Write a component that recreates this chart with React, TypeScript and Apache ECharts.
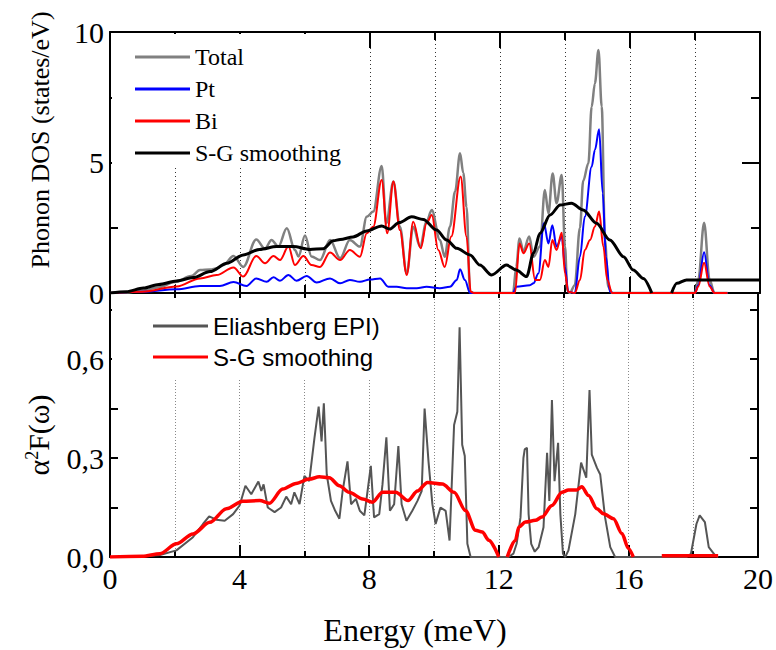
import React, { useEffect, useRef } from 'react';
import * as echarts from 'echarts';

// ---------- Top panel: phonon DOS ----------
const totalE = [0, 0.5, 1.0, 1.5, 2.0, 2.5, 2.77, 3.08, 3.3, 3.49, 3.8, 4.1, 4.5, 4.77, 4.97, 5.18, 5.44, 5.69, 5.8, 6.0, 6.2, 6.46, 6.77, 7.08, 7.38, 7.69, 7.9, 8.1, 8.36, 8.5, 8.72, 8.92, 9.13, 9.33, 9.54, 9.74, 9.9, 10.15, 10.3, 10.46, 10.62, 10.77, 10.87, 10.97, 11.08, 11.2, 12.4, 12.5, 12.6, 12.72, 12.9, 13.03, 13.23, 13.38, 13.49, 13.62, 13.74, 13.9, 14.0, 14.07, 14.15, 14.3, 14.46, 14.56, 14.72, 14.82, 14.92, 15.03, 15.13, 15.23, 15.33, 15.45, 18.0, 18.1, 18.28, 18.45, 18.6, 19.0];
const totalV = [0, 0.02, 0.1, 0.22, 0.42, 0.65, 0.88, 0.9, 0.95, 1.07, 1.42, 1.0, 2.05, 1.7, 2.03, 1.78, 2.48, 1.65, 1.4, 2.2, 1.4, 1.26, 2.03, 1.33, 2.03, 1.78, 2.92, 3.12, 4.87, 2.67, 4.27, 2.54, 0.75, 2.54, 1.78, 2.73, 3.18, 2.03, 1.39, 2.54, 3.9, 5.35, 4.6, 3.3, 0.05, 0, 0, 1.0, 2.09, 1.6, 2.16, 1.39, 1.78, 3.95, 3.05, 4.58, 3.44, 4.52, 1.78, 0.1, 0, 0.3, 2.5, 4.3, 4.97, 7.14, 8.03, 9.31, 7.14, 2.03, 0.24, 0, 0, 0.5, 2.69, 0.5, 0, 0];

const ptE = [0, 1.0, 2.05, 2.77, 3.38, 3.8, 4.2, 4.5, 4.82, 5.03, 5.23, 5.49, 5.74, 6.05, 6.36, 6.77, 7.08, 7.38, 7.69, 8.0, 8.31, 8.56, 8.82, 9.13, 9.44, 9.74, 10.15, 10.46, 10.67, 10.77, 10.92, 11.08, 12.4, 12.5, 12.92, 13.03, 13.18, 13.35, 13.49, 13.61, 13.74, 13.9, 14.0, 14.1, 14.3, 14.46, 14.61, 14.82, 14.92, 15.05, 15.16, 15.26, 15.38, 15.5, 18.0, 18.1, 18.28, 18.45, 18.6, 19.0];
const ptV = [0, 0.05, 0.14, 0.27, 0.27, 0.42, 0.27, 0.56, 0.43, 0.6, 0.47, 0.69, 0.47, 0.65, 0.4, 0.56, 0.37, 0.5, 0.43, 0.52, 0.56, 0.24, 0.24, 0.18, 0.18, 0.24, 0.18, 0.24, 0.5, 0.91, 0.5, 0, 0, 0.24, 0.3, 0.37, 0.75, 2.67, 1.9, 2.6, 1.78, 2.16, 1.0, 0.05, 0, 1.39, 2.92, 4.84, 5.48, 6.27, 3.82, 1.39, 0.05, 0, 0, 0.3, 1.56, 0.3, 0, 0];

const biE = [0, 1.0, 2.05, 2.77, 3.28, 3.8, 4.1, 4.5, 4.77, 5.03, 5.23, 5.49, 5.69, 5.95, 6.2, 6.46, 6.77, 7.08, 7.38, 7.69, 7.9, 8.1, 8.36, 8.53, 8.72, 8.92, 9.13, 9.33, 9.56, 9.74, 9.9, 10.1, 10.3, 10.5, 10.79, 10.97, 11.1, 11.2, 12.4, 12.46, 12.6, 12.72, 12.9, 13.08, 13.23, 13.38, 13.49, 13.61, 13.74, 13.9, 14.0, 14.1, 14.3, 14.46, 14.61, 14.77, 14.92, 15.05, 15.18, 15.3, 15.45, 18.0, 18.1, 18.28, 18.45, 18.6, 19.0];
const biV = [0, 0.05, 0.25, 0.56, 0.69, 0.98, 0.63, 1.42, 1.14, 1.42, 1.26, 1.78, 1.07, 1.42, 1.07, 1.0, 1.55, 1.26, 1.65, 1.39, 2.29, 2.54, 4.33, 2.29, 4.27, 2.41, 0.69, 2.73, 1.71, 2.67, 2.99, 1.65, 1.0, 2.16, 4.46, 2.16, 0.05, 0, 0, 0, 1.9, 1.52, 1.9, 0.5, 0.5, 1.26, 1.0, 2.03, 1.65, 2.31, 0.75, 0.05, 0, 0.5, 1.65, 2.03, 2.54, 3.12, 1.78, 0.5, 0, 0, 0.25, 1.16, 0.25, 0, 0];

const sgDosE = [0, 0.5, 1.03, 1.5, 2.05, 2.56, 3.08, 3.6, 4.1, 4.6, 5.13, 5.64, 6.15, 6.56, 6.87, 7.08, 7.48, 7.9, 8.36, 8.6, 8.9, 9.28, 9.64, 10.05, 10.36, 10.67, 11.08, 11.38, 11.74, 12.2, 12.5, 12.82, 13.03, 13.23, 13.54, 13.85, 14.2, 14.56, 14.97, 15.38, 15.8, 16.1, 16.41, 16.67, 17.0, 17.28, 17.44, 17.74, 18.0, 20.0];
const sgDosV = [0, 0.05, 0.19, 0.33, 0.46, 0.59, 0.82, 1.14, 1.46, 1.67, 1.78, 1.78, 1.67, 1.7, 2.0, 2.05, 2.15, 2.38, 2.57, 2.45, 2.7, 2.92, 2.82, 2.41, 2.03, 1.71, 1.46, 1.07, 0.69, 1.07, 0.88, 0.63, 1.52, 2.29, 2.99, 3.37, 3.44, 3.18, 2.67, 2.03, 1.39, 0.88, 0.56, 0, null, 0, 0.37, 0.5, 0.5, 0.5];

// ---------- Bottom panel: Eliashberg function ----------
const eliE = [0, 1.0, 1.54, 2.05, 2.56, 2.87, 3.06, 3.28, 3.54, 3.8, 4.0, 4.18, 4.36, 4.58, 4.67, 4.74, 4.87, 5.08, 5.28, 5.44, 5.59, 5.69, 5.85, 6.0, 6.15, 6.31, 6.44, 6.53, 6.6, 6.69, 6.82, 6.95, 7.08, 7.18, 7.33, 7.44, 7.59, 7.71, 7.85, 7.95, 8.05, 8.15, 8.31, 8.41, 8.53, 8.64, 8.77, 8.9, 9.0, 9.15, 9.33, 9.49, 9.62, 9.71, 9.83, 9.95, 10.05, 10.2, 10.36, 10.48, 10.62, 10.72, 10.79, 10.87, 10.95, 11.03, 11.13, 12.3, 12.45, 12.55, 12.67, 12.76, 12.8, 12.87, 12.92, 13.0, 13.11, 13.23, 13.38, 13.49, 13.56, 13.64, 13.72, 13.83, 13.9, 13.98, 14.05, 14.15, 14.36, 14.54, 14.7, 14.8, 14.87, 15.03, 15.13, 15.28, 15.44, 15.59, 17.8, 17.93, 18.1, 18.2, 18.36, 18.48, 18.67, 18.77];
const eliV = [0, 0.002, 0.006, 0.02, 0.06, 0.1, 0.123, 0.113, 0.11, 0.13, 0.156, 0.216, 0.19, 0.229, 0.2, 0.22, 0.15, 0.136, 0.15, 0.183, 0.16, 0.196, 0.16, 0.246, 0.23, 0.36, 0.456, 0.35, 0.466, 0.25, 0.17, 0.14, 0.116, 0.2, 0.29, 0.16, 0.176, 0.14, 0.126, 0.2, 0.276, 0.12, 0.13, 0.22, 0.363, 0.14, 0.16, 0.336, 0.16, 0.11, 0.14, 0.17, 0.2, 0.45, 0.29, 0.16, 0.1, 0.15, 0.14, 0.05, 0.4, 0.44, 0.696, 0.34, 0.306, 0.04, 0, 0, 0.01, 0.04, 0.12, 0.3, 0.326, 0.331, 0.13, 0.04, 0.016, 0.03, 0.09, 0.316, 0.17, 0.476, 0.23, 0.346, 0.13, 0.01, 0, 0.02, 0.13, 0.286, 0.24, 0.506, 0.31, 0.27, 0.25, 0.12, 0.03, 0, 0, 0.01, 0.1, 0.126, 0.106, 0.03, 0.006, 0];

const sgEliE = [0, 1.0, 1.54, 2.05, 2.56, 3.08, 3.59, 4.1, 4.62, 4.92, 5.33, 5.74, 6.15, 6.46, 6.77, 7.08, 7.38, 7.8, 8.1, 8.41, 8.82, 9.2, 9.49, 9.8, 10.26, 10.62, 10.97, 11.28, 11.49, 11.69, 12.0, 12.1, 12.26, 12.51, 12.62, 12.82, 13.13, 13.33, 13.64, 13.95, 14.15, 14.41, 14.56, 14.77, 15.03, 15.23, 15.54, 15.8, 16.0, 16.15, 16.5, 17.03, 18.77];
const sgEliV = [0, 0.002, 0.01, 0.04, 0.07, 0.105, 0.146, 0.169, 0.171, 0.163, 0.206, 0.223, 0.236, 0.243, 0.24, 0.216, 0.196, 0.176, 0.166, 0.196, 0.196, 0.171, 0.2, 0.226, 0.221, 0.196, 0.141, 0.081, 0.076, 0.051, 0, null, 0, 0.05, 0.091, 0.106, 0.111, 0.121, 0.156, 0.196, 0.203, 0.203, 0.213, 0.186, 0.146, 0.131, 0.116, 0.071, 0.026, 0, null, 0.004, 0.004];

const xTicks = { min: 0, max: 20, major: 4 };
const dosTicks = { min: 0, max: 10, major: 5 };
const eliTicks = { min: 0, max: 0.8, step: 0.15, labelStep: 0.3 };

const pairs = (xs: number[], ys: (number | null)[]) =>
  xs.map((x, i) => [x, ys[i] === null ? '-' : ys[i]]);

const serif = '"Liberation Serif", "Times New Roman", serif';
const sans = '"Liberation Sans", Arial, sans-serif';
const axisLineStyle = { color: '#000', width: 2 };

export default function App() {
  const ref = useRef<HTMLDivElement>(null);
  useEffect(() => {
    if (!ref.current) return;
    const chart = echarts.init(ref.current, null, { renderer: 'svg' });
    const xBase = (grid: number, position: 'top' | 'bottom', extra: any = {}) => ({
      type: 'value',
      gridIndex: grid,
      position,
      min: xTicks.min,
      max: xTicks.max,
      interval: xTicks.major,
      axisLine: { show: true, onZero: false, lineStyle: axisLineStyle },
      axisTick: { show: true, inside: true, length: 16, lineStyle: { color: '#000', width: 2 } },
      minorTick: { show: true, splitNumber: 2, length: 8, lineStyle: { color: '#000', width: 2 } },
      axisLabel: { show: false },
      splitLine: { show: false },
      minorSplitLine: { show: false },
      ...extra,
    });
    const option: any = {
      animation: false,
      backgroundColor: '#fff',
      grid: [
        { left: 110, top: 32, width: 650, height: 261 },
        { left: 110, top: 293, width: 650, height: 264 },
      ],
      xAxis: [
        xBase(0, 'bottom', {
          splitLine: { show: true, lineStyle: { color: '#333', width: 1, type: [1, 3] } },
          minorSplitLine: { show: true, lineStyle: { color: '#333', width: 1, type: [1, 3] } },
        }),
        xBase(0, 'top'),
        xBase(1, 'bottom', {
          axisLabel: { show: true, fontFamily: serif, fontSize: 30, color: '#000', margin: 6 },
          axisTick: { show: true, inside: true, length: 12, lineStyle: { color: '#000', width: 2 } },
          minorTick: { show: true, splitNumber: 2, length: 6, lineStyle: { color: '#000', width: 2 } },
          splitLine: { show: true, lineStyle: { color: '#888', width: 1, type: [1, 2] } },
          minorSplitLine: { show: true, lineStyle: { color: '#888', width: 1, type: [1, 2] } },
        }),
        xBase(1, 'top', {
          axisTick: { show: true, inside: true, length: 5, lineStyle: { color: '#000', width: 2 } },
          minorTick: { show: true, splitNumber: 2, length: 5, lineStyle: { color: '#000', width: 2 } },
        }),
      ],
      yAxis: [
        {
          type: 'value', gridIndex: 0, position: 'left',
          min: dosTicks.min, max: dosTicks.max, interval: dosTicks.major,
          axisLine: { show: true, onZero: false, lineStyle: axisLineStyle },
          axisTick: { show: true, inside: true, length: 16, lineStyle: { color: '#000', width: 2 } },
          minorTick: { show: true, splitNumber: 2, length: 8, lineStyle: { color: '#000', width: 2 } },
          axisLabel: { fontFamily: serif, fontSize: 30, color: '#000', margin: 6 },
          splitLine: { show: false },
        },
        {
          type: 'value', gridIndex: 0, position: 'right',
          min: dosTicks.min, max: dosTicks.max, interval: dosTicks.major,
          axisLine: { show: true, onZero: false, lineStyle: axisLineStyle },
          axisTick: { show: true, inside: true, length: 18, lineStyle: { color: '#000', width: 2 } },
          minorTick: { show: true, splitNumber: 2, length: 9, lineStyle: { color: '#000', width: 2 } },
          axisLabel: { show: false },
          splitLine: { show: false },
        },
        {
          type: 'value', gridIndex: 1, position: 'left',
          min: eliTicks.min, max: eliTicks.max, interval: eliTicks.step,
          axisLine: { show: true, onZero: false, lineStyle: axisLineStyle },
          axisTick: { show: true, inside: true, length: 8, lineStyle: { color: '#000', width: 2 } },
          axisLabel: {
            fontFamily: serif, fontSize: 30, color: '#000', margin: 6,
            formatter: (v: number) => {
              const k = v / eliTicks.labelStep;
              return Math.abs(k - Math.round(k)) < 1e-6 ? v.toFixed(1).replace('.', ',') : '';
            },
          },
          splitLine: { show: false },
        },
        {
          type: 'value', gridIndex: 1, position: 'right',
          min: eliTicks.min, max: eliTicks.max, interval: eliTicks.step,
          axisLine: { show: true, onZero: false, lineStyle: axisLineStyle },
          axisTick: { show: true, inside: true, length: 8, lineStyle: { color: '#000', width: 2 } },
          axisLabel: { show: false },
          splitLine: { show: false },
        },
      ],
      legend: [
        {
          data: ['Total', 'Pt', 'Bi', 'S-G smoothing'],
          orient: 'vertical', left: 112, top: 34,
          icon: 'rect',
          itemWidth: 55, itemHeight: 3, itemGap: 8,
          backgroundColor: '#fff', padding: [11, 10, 0, 23],
          textStyle: { fontFamily: serif, fontSize: 24, color: '#000', lineHeight: 24 },
          selectedMode: false,
        },
        {
          data: ['Eliashberg EPI)', 'S-G smoothing α2F'],
          orient: 'vertical', left: 112, top: 298,
          icon: 'rect',
          itemWidth: 55, itemHeight: 3, itemGap: 7,
          backgroundColor: '#fff', padding: [16, 8, 9, 41],
          formatter: (n: string) => (n.startsWith('S-G') ? 'S-G smoothing' : n),
          textStyle: { fontFamily: sans, fontSize: 24, color: '#000', lineHeight: 24 },
          selectedMode: false,
        },
      ],
      graphic: [
        {
          type: 'text', x: 40, y: 140, rotation: Math.PI / 2,
          style: { text: 'Phonon DOS (states/eV)', font: '26px "Liberation Serif", serif', fill: '#000', align: 'center', verticalAlign: 'middle' },
        },
        {
          type: 'text', x: 38, y: 435, rotation: Math.PI / 2,
          style: {
            text: '{a|α}{s|2}{a|F(ω)}', font: '30px "Liberation Serif", serif', fill: '#000', align: 'center', verticalAlign: 'middle',
            rich: {
              a: { font: '30px "Liberation Serif", serif', fill: '#000' },
              s: { font: '18px "Liberation Serif", serif', fill: '#000', verticalAlign: 'top' },
            },
          },
        },
        {
          type: 'text', x: 415, y: 630,
          style: { text: 'Energy (meV)', font: '32px "Liberation Serif", serif', fill: '#000', align: 'center', verticalAlign: 'middle' },
        },
      ],
      series: [
        { name: 'Total', type: 'line', xAxisIndex: 0, yAxisIndex: 0, data: pairs(totalE, totalV), showSymbol: false, symbol: 'none', smooth: 0.35, smoothMonotone: 'x', lineStyle: { color: '#808080', width: 2.5 }, itemStyle: { color: '#808080' } },
        { name: 'Pt', type: 'line', xAxisIndex: 0, yAxisIndex: 0, data: pairs(ptE, ptV), showSymbol: false, symbol: 'none', smooth: 0.35, smoothMonotone: 'x', lineStyle: { color: '#0000ff', width: 2 }, itemStyle: { color: '#0000ff' } },
        { name: 'Bi', type: 'line', xAxisIndex: 0, yAxisIndex: 0, data: pairs(biE, biV), showSymbol: false, symbol: 'none', smooth: 0.35, smoothMonotone: 'x', lineStyle: { color: '#ff0000', width: 2 }, itemStyle: { color: '#ff0000' } },
        { name: 'S-G smoothing', type: 'line', xAxisIndex: 0, yAxisIndex: 0, data: pairs(sgDosE, sgDosV), showSymbol: false, symbol: 'none', smooth: 0.3, smoothMonotone: 'x', lineStyle: { color: '#000', width: 3 }, itemStyle: { color: '#000' } },
        { name: 'Eliashberg EPI)', type: 'line', xAxisIndex: 2, yAxisIndex: 2, data: pairs(eliE, eliV), showSymbol: false, symbol: 'none', lineStyle: { color: '#555', width: 2 }, itemStyle: { color: '#555' } },
        { name: 'S-G smoothing α2F', type: 'line', xAxisIndex: 2, yAxisIndex: 2, data: pairs(sgEliE, sgEliV), showSymbol: false, symbol: 'none', smooth: 0.3, smoothMonotone: 'x', lineStyle: { color: '#ff0000', width: 3.5 }, itemStyle: { color: '#ff0000' } },
      ],
    };
    chart.setOption(option);
    return () => chart.dispose();
  }, []);
  return <div ref={ref} style={{ position: 'absolute', left: 0, top: 0, width: 776, height: 650 }} />;
}
